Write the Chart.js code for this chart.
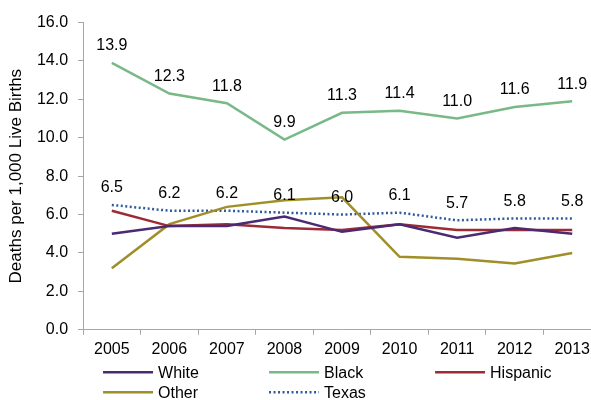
<!DOCTYPE html>
<html>
<head>
<meta charset="utf-8">
<script src="https://cdn.jsdelivr.net/npm/chart.js@4"></script>
<style>
  html, body { margin: 0; padding: 0; background: #fff; overflow: hidden; }
  #wrap { width: 601px; height: 400px; }
</style>
</head>
<body>
<div id="wrap"><canvas id="myChart" width="601" height="400"></canvas></div>
<script>
const years = ['2005', '2006', '2007', '2008', '2009', '2010', '2011', '2012', '2013'];
const white = [5.0, 5.4, 5.4, 5.9, 5.1, 5.5, 4.8, 5.3, 5.0];
const black = [13.9, 12.3, 11.8, 9.9, 11.3, 11.4, 11.0, 11.6, 11.9];
const hispanic = [6.2, 5.4, 5.5, 5.3, 5.2, 5.5, 5.2, 5.2, 5.2];
const other = [3.2, 5.5, 6.4, 6.75, 6.9, 3.8, 3.7, 3.45, 4.0];
const texas = [6.5, 6.2, 6.2, 6.1, 6.0, 6.1, 5.7, 5.8, 5.8];

const FONT = "'Liberation Sans', Arial, sans-serif";
Chart.defaults.font.family = FONT;
Chart.defaults.color = '#000';

// value labels above Black and Texas points
const valueLabels = {
  id: 'valueLabels',
  afterDatasetsDraw(chart) {
    const ctx = chart.ctx;
    ctx.save();
    ctx.font = '16px ' + FONT;
    ctx.fillStyle = '#000';
    ctx.textAlign = 'center';
    ctx.textBaseline = 'middle';
    chart.data.datasets.forEach((ds, i) => {
      if (!ds.showValues) return;
      chart.getDatasetMeta(i).data.forEach((pt, j) => {
        ctx.fillText(ds.data[j].toFixed(1), pt.x, pt.y - 17);
      });
    });
    ctx.restore();
  }
};

// legend in 3 fixed columns, like the original
const gridLegend = {
  id: 'gridLegend',
  afterDraw(chart) {
    const ctx = chart.ctx;
    const area = chart.chartArea;
    ctx.save();
    ctx.font = '16px ' + FONT;
    ctx.textAlign = 'left';
    ctx.textBaseline = 'middle';
    chart.data.datasets.forEach((ds, i) => {
      const x = area.left + 20 + (i % 3) * 166;
      const y = area.bottom + 42.5 + Math.floor(i / 3) * 20;
      ctx.strokeStyle = ds.borderColor;
      ctx.lineWidth = ds.borderWidth;
      ctx.setLineDash(ds.borderDash || []);
      ctx.beginPath();
      ctx.moveTo(x, y);
      ctx.lineTo(x + 50, y);
      ctx.stroke();
      ctx.setLineDash([]);
      ctx.fillStyle = '#000';
      ctx.fillText(ds.label, x + 55, y + 1);
    });
    ctx.restore();
  }
};

const axisGrey = '#a6a6a6';

new Chart(document.getElementById('myChart'), {
  type: 'line',
  data: {
    labels: years,
    datasets: [
      { label: 'White', data: white, borderColor: '#4b2a72', borderWidth: 2.5 },
      { label: 'Black', data: black, borderColor: '#79b887', borderWidth: 2.5, showValues: true },
      { label: 'Hispanic', data: hispanic, borderColor: '#9c2b34', borderWidth: 2.5 },
      { label: 'Other', data: other, borderColor: '#a08f28', borderWidth: 2.5 },
      { label: 'Texas', data: texas, borderColor: '#2f5b9b', borderWidth: 2.5, borderDash: [2, 2.5], showValues: true }
    ]
  },
  options: {
    responsive: false,
    animation: false,
    layout: { padding: { left: 2.5, top: 22.5, right: 0, bottom: 36 } },
    elements: {
      point: { radius: 0 },
      line: { tension: 0, fill: false, borderCapStyle: 'butt' }
    },
    plugins: {
      legend: { display: false },
      tooltip: { enabled: false }
    },
    scales: {
      x: {
        offset: true,
        grid: { offset: true, drawOnChartArea: false, tickLength: 5, color: axisGrey },
        border: { color: axisGrey },
        ticks: { font: { size: 16 }, padding: 5, maxRotation: 0, color: '#000' }
      },
      y: {
        min: 0,
        max: 16,
        grid: { drawOnChartArea: false, tickLength: 5, color: axisGrey },
        border: { color: axisGrey },
        ticks: {
          stepSize: 2,
          font: { size: 16 },
          padding: 10,
          color: '#000',
          callback: v => v.toFixed(1)
        },
        title: {
          display: true,
          text: 'Deaths per 1,000 Live Births',
          font: { size: 17 },
          color: '#000',
          padding: { top: 4, bottom: 0 }
        }
      }
    }
  },
  plugins: [valueLabels, gridLegend]
});
</script>
</body>
</html>
